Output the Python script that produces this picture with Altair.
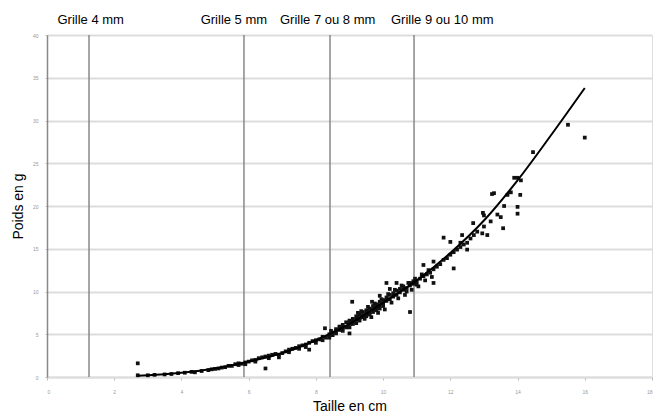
import altair as alt
import pandas as pd

# Scatter observations (Taille en cm, Poids en g)
obs_x = [2.7, 2.7, 3.0, 3.2, 3.5, 3.7, 3.9, 4.1, 4.3, 4.4, 4.6, 4.8, 4.9, 5.0, 5.1, 5.2, 5.3, 5.4, 5.5,
         5.6, 5.7, 5.8, 5.9, 6.0, 6.1, 6.2, 6.3, 6.4, 6.5, 6.5, 6.6, 6.7, 6.8, 6.9, 7.0, 7.1, 7.2, 7.3,
         7.4, 7.5, 7.6, 7.7, 7.8, 7.8, 7.9, 8.0,
         8.1, 8.2, 8.27, 8.3, 8.4, 8.5, 8.5, 8.6, 8.6, 8.7, 8.7, 8.8, 8.8, 8.9, 8.9, 9.0, 9.0, 9.0,
         9.08, 9.1, 9.1, 9.2, 9.2, 9.3, 9.3, 9.3, 9.4, 9.4, 9.4, 9.5, 9.5, 9.5, 9.6, 9.6, 9.6, 9.67,
         9.7, 9.7, 9.7, 9.8, 9.8, 9.8, 9.9, 9.9, 9.9, 10.0, 10.0, 10.0, 10.1, 10.1, 10.1, 10.2, 10.2,
         10.3, 10.3, 10.4, 10.4, 10.4, 10.5, 10.5, 10.6, 10.6, 10.7, 10.7, 10.8, 10.8, 10.8, 10.9, 10.9,
         11.0, 11.0, 11.1, 11.2, 11.2, 11.3, 11.4, 11.5, 11.5, 11.5, 11.6, 11.7, 11.8, 11.8, 11.9,
         12.0, 12.0, 12.1, 12.1, 12.2, 12.3, 12.3, 12.35, 12.4, 12.5, 12.5, 12.6, 12.68, 12.7, 12.8,
         12.95, 12.97, 13.0, 13.0, 13.1, 13.2, 13.24, 13.3, 13.4, 13.5, 13.57, 13.6, 13.7, 13.8, 13.9,
         14.0, 14.0, 14.0, 14.08, 14.1, 14.46, 15.5, 16.0,
         8.6, 8.8, 9.0, 9.1, 9.2, 9.25, 9.35, 9.45, 9.55, 9.65, 9.75, 9.85, 9.95, 10.05, 10.15, 10.25,
         10.35, 10.45, 10.55, 10.65, 10.75, 10.85, 10.95, 11.05, 11.15, 11.25, 11.35, 11.45, 7.5, 7.7,
         8.0, 8.2, 8.4, 8.45, 6.6, 6.9, 7.2, 5.7, 5.9, 6.2, 9.9, 10.2]
obs_y = [1.6, 0.2, 0.2, 0.25, 0.3, 0.35, 0.45, 0.5, 0.6, 0.55, 0.7, 0.8, 0.9, 0.95, 1.0, 1.1, 1.15, 1.3, 1.3,
         1.5, 1.6, 1.55, 1.7, 1.8, 1.95, 2.0, 2.2, 2.3, 2.4, 1.0, 2.5, 2.6, 2.7, 2.3, 2.8, 3.0, 3.2, 3.3,
         3.4, 3.6, 3.7, 3.8, 3.2, 4.0, 4.2, 4.3,
         4.4, 4.7, 5.7, 4.6, 5.0, 5.2, 4.9, 5.4, 5.6, 5.5, 5.9, 5.8, 6.1, 6.4, 5.8, 6.2, 5.1, 6.6,
         8.8, 6.5, 6.8, 6.7, 7.1, 6.9, 7.3, 6.6, 7.2, 7.6, 7.0, 7.4, 7.8, 7.1, 7.6, 8.0, 7.3, 8.8,
         7.9, 8.3, 7.6, 8.1, 8.5, 7.8, 8.4, 8.8, 8.0, 8.6, 9.0, 8.3, 8.9, 9.3, 11.0, 9.1, 9.6,
         9.4, 9.8, 9.6, 11.0, 10.1, 9.9, 10.3, 10.2, 10.6, 10.4, 10.0, 10.7, 7.6, 11.0, 10.9, 11.2,
         11.2, 10.8, 11.5, 13.1, 11.8, 12.0, 12.2, 13.5, 11.0, 12.6, 12.9, 13.2, 13.7, 16.3, 13.9,
         14.3, 15.8, 12.7, 14.6, 14.9, 15.7, 15.2, 16.6, 15.5, 15.7, 14.9, 16.2, 18.0, 16.6, 17.0,
         16.8, 19.2, 18.9, 17.6, 16.6, 18.2, 21.4, 21.5, 19.0, 18.7, 17.4, 20.0, 21.3, 21.6, 23.3,
         23.3, 19.9, 19.1, 21.3, 23.0, 26.3, 29.5, 28.0,
         5.1, 5.4, 5.8, 6.2, 6.3, 7.5, 7.7, 6.8, 8.2, 7.0, 8.6, 7.5, 9.1, 7.9, 9.7, 8.7,
         10.2, 9.2, 10.7, 9.6, 11.0, 10.2, 11.5, 10.6, 12.0, 11.3, 12.5, 11.7, 3.3, 3.5,
         4.0, 4.3, 4.6, 5.4, 2.2, 2.6, 2.9, 1.4, 1.5, 1.8, 9.5, 10.3]

# Trend curve
curve_x = [2.7, 3, 4, 5, 6, 7, 8, 9, 10, 11, 12, 13, 14, 15, 16]
curve_y = [0.15, 0.2, 0.5, 1.0, 1.8, 2.8, 4.3, 6.2, 8.7, 11.3, 14.5, 18.3, 23.0, 28.3, 33.8]

# Grid (sieve) reference lines and their labels
grille_x = [1.25, 5.86, 8.42, 10.92]
label_x = [1.3, 5.56, 8.35, 11.76]
labels = ["Grille 4 mm", "Grille 5 mm", "Grille 7 ou 8 mm", "Grille 9 ou 10 mm"]

pts = pd.DataFrame({"x": obs_x, "y": obs_y})
crv = pd.DataFrame({"x": curve_x, "y": curve_y})
grl = pd.DataFrame({"x": grille_x})
lbl = pd.DataFrame({"x": label_x, "t": labels})

FONT = "Liberation Sans"
xs = alt.Scale(domain=[0, 18], nice=False)
ys = alt.Scale(domain=[0, 40], nice=False)

xaxis = alt.Axis(values=list(range(0, 19, 2)), grid=False, labelFontSize=5, labelColor="#999",
                 domainColor="#ddd", domainWidth=2, tickColor="#bbb", tickSize=3, labelPadding=9,
                 title="Taille en cm", titleFont=FONT, titleFontSize=14, titleFontWeight="normal",
                 titleColor="black", titleY=29, titleBaseline="middle")
yaxis = alt.Axis(values=list(range(0, 41, 5)), grid=True, gridColor="#ddd", gridWidth=2,
                 labelFontSize=5, labelColor="#999", domainColor="#888", domainWidth=1.5,
                 tickColor="#bbb", tickSize=2, labelPadding=7,
                 title="Poids en g", titleFont=FONT, titleFontSize=14, titleFontWeight="normal",
                 titleColor="black", titleX=-29, titleY=171, titleAngle=-90,
                 titleBaseline="middle", titleAlign="center")

base_pts = alt.Chart(pts).mark_square(size=14, color="#111", opacity=1).encode(
    x=alt.X("x:Q", scale=xs, axis=xaxis),
    y=alt.Y("y:Q", scale=ys, axis=yaxis),
)
rules = alt.Chart(grl).mark_rule(color="#888", strokeWidth=1.5).encode(
    x=alt.X("x:Q", scale=xs)
)
line = alt.Chart(crv).mark_line(color="black", strokeWidth=2, interpolate="monotone").encode(
    x=alt.X("x:Q", scale=xs), y=alt.Y("y:Q", scale=ys)
)
text = alt.Chart(lbl).mark_text(font=FONT, fontSize=13, color="black", align="center",
                                baseline="middle").encode(
    x=alt.X("x:Q", scale=xs), y=alt.value(-15), text="t:N"
)

chart = alt.layer(rules, base_pts, line, text).properties(
    width=605, height=342,
    autosize=alt.AutoSizeParams(type="none"),
    padding={"left": 39, "top": 27, "right": 2, "bottom": 38},
).configure_view(stroke=None).configure(background="white")

chart.save("out.html", embed_options={"renderer": "svg", "actions": False})
